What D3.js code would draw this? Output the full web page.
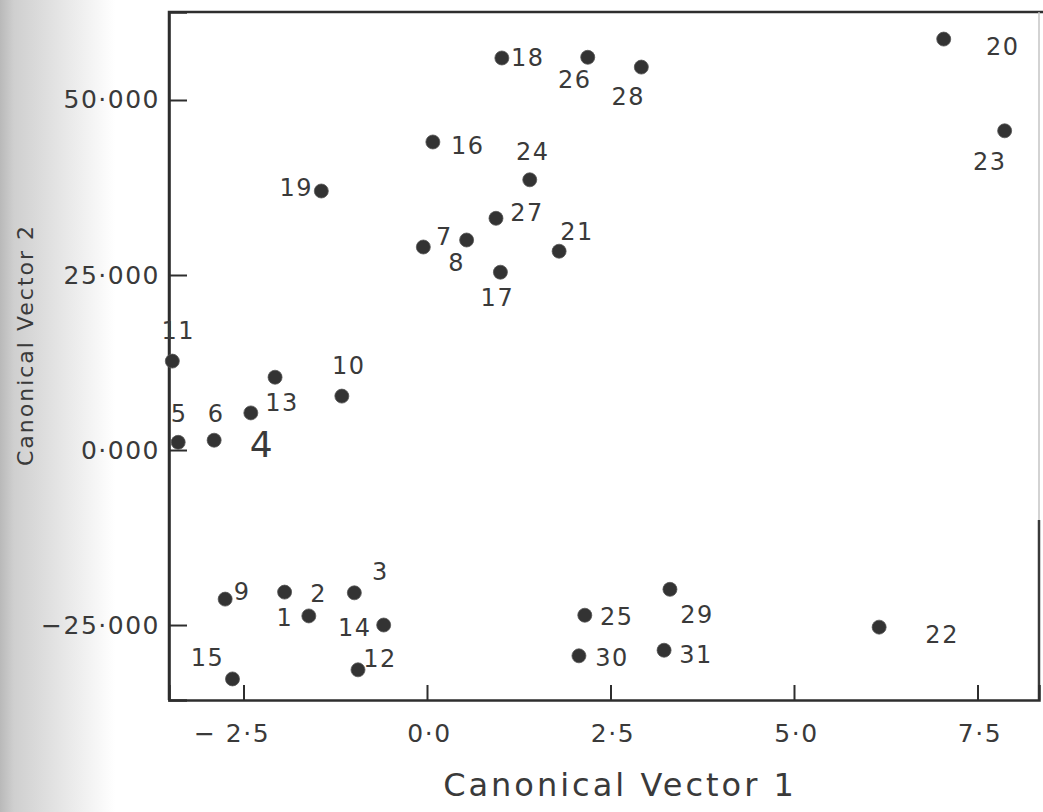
<html>
  <head>
    <meta charset="utf-8">
    <script src="https://cdn.jsdelivr.net/npm/d3@7/dist/d3.min.js"></script>
    <style>
      body { margin: 0; background: #fff; }
      text { font-family: "DejaVu Sans", sans-serif; fill: #3a3a3a; }
    </style>
  </head>
  <body>
<div id="chart"></div>
<script>

// canonical scores
let ids = [1, 2, 3, 4, 5, 6, 7, 8, 9, 10, 11, 12, 13, 14, 15, 16,
           17, 18, 19, 20, 21, 22, 23, 24, 25, 26, 27, 28, 29, 30, 31];
let cv1 = [-1.61, -1.94, -0.99, -2.40, -3.39, -2.90, -0.05, 0.54, -2.75, -1.16, -3.47, -0.94, -2.07, -0.59, -2.65, 0.08,
           1.00, 1.02, -1.44, 7.04, 1.80, 6.16, 7.87, 1.40, 2.15, 2.19, 0.94, 2.92, 3.31, 2.07, 3.23];
let cv2 = [-23.7, -20.3, -20.4, 5.3, 1.1, 1.4, 29.0, 30.0, -21.3, 7.7, 12.7, -31.4, 10.4, -25.0, -32.7, 44.0,
           25.4, 56.0, 37.0, 58.7, 28.4, -25.3, 45.6, 38.6, -23.6, 56.1, 33.1, 54.7, -19.9, -29.4, -28.6];

let xTicks = [-2.5, 0, 2.5, 5, 7.5];
let xTickLabels = ['\u2212 2\u00B75', '0\u00B70', '2\u00B75', '5\u00B70', '7\u00B75'];
let yTicks = [-25, 0, 25, 50];
let yTickLabels = ['\u221225\u00B7000', '0\u00B7000', '25\u00B7000', '50\u00B7000'];

// where each number sits next to its dot (layout only)
let labelOffset = {
    1: [-24, 2], 2: [34, 2], 3: [26, -21], 4: [11, 32], 5: [1, -28], 6: [2, -26],
    7: [21, -10], 8: [-10, 23], 9: [17, -7], 10: [7, -30], 11: [6, -30], 12: [22, -11],
    13: [7, 26], 14: [-29, 3], 15: [-25, -21], 16: [35, 4], 17: [-3, 26], 18: [26, 0],
    19: [-25, -3], 20: [59, 8], 21: [18, -19], 22: [63, 8], 23: [-15, 31], 24: [3, -28],
    25: [32, 2], 26: [-13, 23], 27: [31, -5], 28: [-13, 30], 29: [27, 26], 30: [33, 2],
    31: [32, 5]
};

let width = 1043;
let height = 812;
let pLeft = 169, pRight = 1039, pTop = 12, pBottom = 700;

let points = ids.map((id, i) => ({id: id, x: cv1[i], y: cv2[i]}));

let x = d3.scaleLinear().domain([-3.515, 8.338]).range([pLeft, pRight]);
let y = d3.scaleLinear().domain([-35.71, 62.57]).range([pBottom, pTop]);

let svg = d3.select('#chart')
    .append('svg')
    .attr('width', width)
    .attr('height', height);

// scanner shadow on the left edge
let grad = svg.append('defs').append('linearGradient')
    .attr('id', 'shade').attr('x1', 0).attr('x2', 1).attr('y1', 0).attr('y2', 0);
grad.append('stop').attr('offset', '0%').attr('stop-color', '#b9b9b9');
grad.append('stop').attr('offset', '12%').attr('stop-color', '#cfcfcf');
grad.append('stop').attr('offset', '100%').attr('stop-color', '#ffffff');
svg.append('rect')
    .attr('x', 0).attr('y', 0).attr('width', 115).attr('height', height)
    .attr('fill', 'url(#shade)');

// frame
svg.append('path')
    .attr('d', `M${pLeft},${pBottom} V${pTop} H${width}`)
    .attr('fill', 'none').attr('stroke', '#2e2e2e').attr('stroke-width', 2.5);
svg.append('line')
    .attr('x1', pRight).attr('x2', pRight).attr('y1', pTop).attr('y2', pBottom)
    .attr('stroke', '#c4c4c4').attr('stroke-width', 1.5);
svg.append('line')
    .attr('x1', pRight).attr('x2', pRight).attr('y1', 520).attr('y2', pBottom)
    .attr('stroke', '#3a3a3a').attr('stroke-width', 2.5);

let xAxis = d3.axisBottom(x)
    .tickValues(xTicks)
    .tickSize(-15)
    .tickPadding(24)
    .tickFormat((d, i) => xTickLabels[i]);

let yAxis = d3.axisLeft(y)
    .tickValues(yTicks)
    .tickSize(-18)
    .tickPadding(9)
    .tickFormat((d, i) => yTickLabels[i]);

let gx = svg.append('g')
    .attr('transform', `translate(0,${pBottom})`)
    .call(xAxis);
let gy = svg.append('g')
    .attr('transform', `translate(${pLeft},0)`)
    .call(yAxis);

[gx, gy].forEach(g => {
    g.select('.domain').attr('stroke', '#2e2e2e').attr('stroke-width', 2.5);
    g.selectAll('.tick line').attr('stroke', '#2e2e2e').attr('stroke-width', 2);
    g.selectAll('.tick text')
        .attr('fill', '#3a3a3a')
        .style('font-family', '"DejaVu Sans", sans-serif')
        .style('font-size', '25px')
        .style('letter-spacing', '1.5px');
});
gx.selectAll('.tick text').attr('dx', (d, i) => i === 0 ? -12 : 2);

// points
svg.append('g')
    .selectAll('circle')
    .data(points)
    .join('circle')
    .attr('cx', d => x(d.x))
    .attr('cy', d => y(d.y))
    .attr('r', 7)
    .attr('fill', '#333')
    .attr('stroke', '#555')
    .attr('stroke-width', 0.8);

svg.append('g')
    .selectAll('text')
    .data(points)
    .join('text')
    .attr('x', d => x(d.x) + labelOffset[d.id][0])
    .attr('y', d => y(d.y) + labelOffset[d.id][1])
    .attr('text-anchor', 'middle')
    .attr('dominant-baseline', 'central')
    .attr('fill', d => d.id === 4 ? '#222' : '#3a3a3a')
    .style('font-size', d => d.id === 4 ? '36px' : '24px')
    .style('letter-spacing', '1.5px')
    .text(d => d.id);

// axis titles
svg.append('text')
    .attr('x', 620)
    .attr('y', 785)
    .attr('text-anchor', 'middle')
    .attr('dominant-baseline', 'central')
    .style('font-size', '32px')
    .style('letter-spacing', '3px')
    .text('Canonical  Vector 1');

svg.append('text')
    .attr('transform', 'translate(25,345) rotate(-90)')
    .attr('text-anchor', 'middle')
    .attr('dominant-baseline', 'central')
    .style('font-size', '22px')
    .style('letter-spacing', '2px')
    .text('Canonical  Vector 2');

</script>
  </body>
</html>
